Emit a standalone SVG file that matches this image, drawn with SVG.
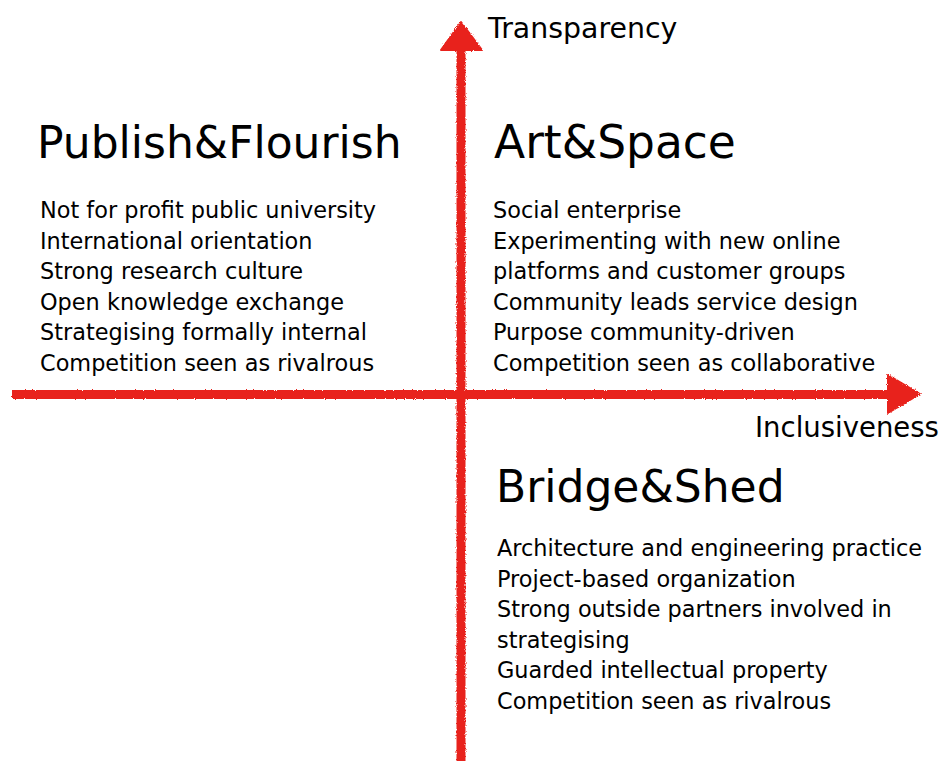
<svg xmlns="http://www.w3.org/2000/svg" width="941" height="761" viewBox="0 0 941 761">
  <style>
    .title { font-family: "DejaVu Sans", "Liberation Sans", sans-serif; font-size: 44px; fill: #000; }
    .wide { font-size: 45.5px; }
    .body { font-family: "DejaVu Sans", "Liberation Sans", sans-serif; font-size: 22.4px; fill: #000; }
    .axislabel { font-family: "DejaVu Sans", "Liberation Sans", sans-serif; font-size: 27.5px; fill: #000; }
    .axis { stroke: #e8231c; stroke-width: 9; fill: none; stroke-linecap: butt; }
    .head { fill: #e8231c; stroke: #e8231c; stroke-width: 2; stroke-linejoin: round; }
  </style>
  <defs>
    <filter id="crayon" x="-5%" y="-5%" width="110%" height="110%">
      <feTurbulence type="fractalNoise" baseFrequency="0.9" numOctaves="2" seed="3" result="noise"/>
      <feDisplacementMap in="SourceGraphic" in2="noise" scale="3" xChannelSelector="R" yChannelSelector="G"/>
    </filter>
  </defs>
  <rect width="941" height="761" fill="#fff"/>

  <g id="connectors" filter="url(#crayon)">
    <g id="axis-transparency">
      <line class="axis" x1="461" y1="761" x2="461" y2="46"/>
      <polygon class="head" points="461,22 482,50 441,50"/>
    </g>
    <g id="axis-inclusiveness">
      <line class="axis" x1="12" y1="394.5" x2="892" y2="394.5"/>
      <polygon class="head" points="920,394 888,375 888,413"/>
    </g>
  </g>

  <g id="label-transparency">
    <text class="axislabel" x="488" y="38" style="font-size:28.4px">Transparency</text>
  </g>
  <g id="label-inclusiveness">
    <text class="axislabel" x="755" y="437">Inclusiveness</text>
  </g>

  <g id="publish-flourish">
    <text class="title" x="37" y="158">Publish&amp;Flourish</text>
    <text class="body" x="40" y="218">Not for profit public university</text>
    <text class="body" x="40" y="248.6">International orientation</text>
    <text class="body" x="40" y="279.2">Strong research culture</text>
    <text class="body" x="40" y="309.8">Open knowledge exchange</text>
    <text class="body" x="40" y="340.4">Strategising formally internal</text>
    <text class="body" x="40" y="371">Competition seen as rivalrous</text>
  </g>

  <g id="art-space">
    <text class="title wide" x="494" y="158">Art&amp;Space</text>
    <text class="body" x="493" y="218">Social enterprise</text>
    <text class="body" x="493" y="248.6">Experimenting with new online</text>
    <text class="body" x="493" y="279.2">platforms and customer groups</text>
    <text class="body" x="493" y="309.8">Community leads service design</text>
    <text class="body" x="493" y="340.4">Purpose community-driven</text>
    <text class="body" x="493" y="371">Competition seen as collaborative</text>
  </g>

  <g id="bridge-shed">
    <text class="title" x="496" y="502">Bridge&amp;Shed</text>
    <text class="body" x="497" y="556">Architecture and engineering practice</text>
    <text class="body" x="497" y="586.6">Project-based organization</text>
    <text class="body" x="497" y="617.2">Strong outside partners involved in</text>
    <text class="body" x="497" y="647.8">strategising</text>
    <text class="body" x="497" y="678.4">Guarded intellectual property</text>
    <text class="body" x="497" y="709">Competition seen as rivalrous</text>
  </g>
</svg>
